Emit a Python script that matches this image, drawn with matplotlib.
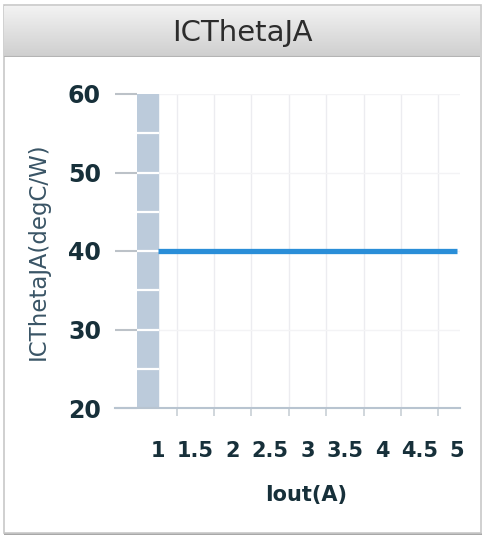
import numpy as np
import matplotlib
matplotlib.use('Agg')
import matplotlib.pyplot as plt
from matplotlib.patches import Rectangle

# data
iout = [1, 1.5, 2, 2.5, 3, 3.5, 4, 4.5, 5]
theta_ja = [40, 40, 40, 40, 40, 40, 40, 40, 40]
x_labels = ['1', '1.5', '2', '2.5', '3', '3.5', '4', '4.5', '5']
y_ticks = [20, 30, 40, 50, 60]
band_lines = [25, 30, 35, 40, 45, 50, 55]

label_color = '#17303a'

fig = plt.figure(figsize=(4.85, 5.38), dpi=100)
fig.patch.set_facecolor('white')

W, H = 485.0, 538.0

# card outline + soft bottom shadow
fig.patches.append(Rectangle((4 / W, 1 - 535 / H), 478 / W, 2 / H,
                             transform=fig.transFigure, facecolor='#a8a8a8',
                             edgecolor='none', zorder=-6))
fig.patches.append(Rectangle((4 / W, 1 - 533 / H), 477 / W, 528 / H,
                             transform=fig.transFigure, facecolor='none',
                             edgecolor='#c8c8c8', linewidth=1.2, zorder=-5))

# header with gradient
hax = fig.add_axes([4.5 / W, 1 - 57 / H, 476 / W, 51 / H])
grad = np.linspace(0.95, 0.81, 50).reshape(-1, 1)
hax.imshow(np.dstack([grad, grad, grad]), aspect='auto', extent=[0, 1, 0, 1])
hax.axhline(0, color='#b4b4b4', linewidth=1.5)
hax.set_axis_off()
fig.text(242 / W, 1 - 33 / H, 'ICThetaJA', ha='center', va='center',
         fontsize=21, color='#2c2c2c')

# main plot
ax = fig.add_axes([137 / W, 1 - 408 / H, 323 / W, 314 / H])
ax.set_xlim(0.719, 5.04)
ax.set_ylim(y_ticks[0], y_ticks[-1])

# plot band left of the first category
ax.axvspan(0.719, iout[0], color='#bccbdb', zorder=1)
for y in band_lines:
    ax.plot([0.719, iout[0]], [y, y], color='white', linewidth=1.6, zorder=2)

ax.plot(iout, theta_ja, color='#2a8ed8', linewidth=3.8, zorder=3,
        solid_capstyle='butt')

# ticks: labels at categories, grid/ticks between categories
mids = [(iout[i] + iout[i + 1]) / 2 for i in range(len(iout) - 1)]
ax.set_xticks(iout)
ax.set_xticklabels(x_labels, fontsize=15, fontweight='bold', color=label_color)
ax.set_xticks(mids, minor=True)
ax.tick_params(axis='x', which='major', length=0, pad=24)
ax.tick_params(axis='x', which='minor', length=6, width=1.2, color='#c8cfd6',
               direction='out')
ax.grid(axis='x', which='minor', color='#ececf0', linewidth=1)

ax.set_yticks(y_ticks)
ax.set_yticklabels([str(v) for v in y_ticks], fontsize=17, fontweight='bold',
                   color=label_color)
ax.tick_params(axis='y', length=16, width=1.5, color='#bcc2c8', pad=10,
               direction='out')
ax.grid(axis='y', which='major', color='#f3f3f5', linewidth=1)
ax.set_axisbelow(True)

for side in ['top', 'right', 'left']:
    ax.spines[side].set_visible(False)
ax.spines['bottom'].set_color('#b8c4d0')
ax.spines['bottom'].set_linewidth(1.5)
ax.spines['bottom'].set_bounds(0.43, 5.04)
ax.spines['bottom'].set_clip_on(False)

ax.set_ylabel('ICThetaJA(degC/W)', fontsize=16.5, color='#3a5566', va='center')
ax.yaxis.set_label_coords(-0.306, 0.5)
ax.set_xlabel('Iout(A)', fontsize=15, fontweight='bold', color=label_color,
              va='center')
ax.xaxis.set_label_coords(0.523, -0.277)

plt.savefig('out.png', dpi=100)
